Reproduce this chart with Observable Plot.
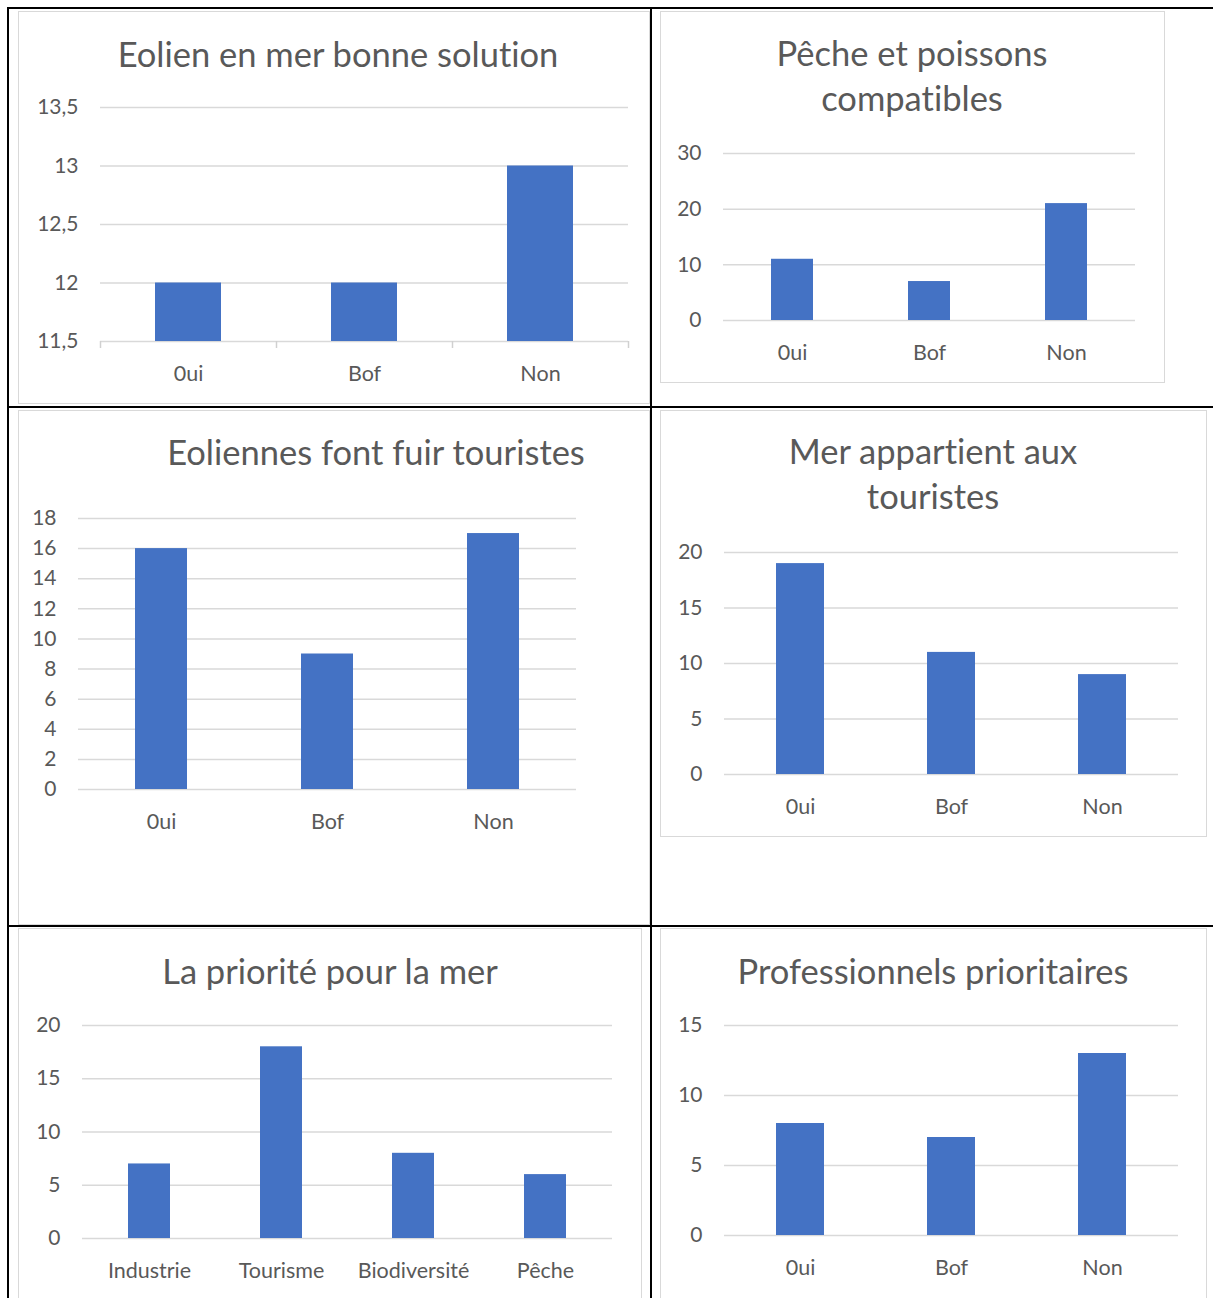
<!DOCTYPE html>
<html>
<head>
<meta charset="utf-8">
<script src="https://cdn.jsdelivr.net/npm/d3@7"></script>
<script src="https://cdn.jsdelivr.net/npm/@observablehq/plot@0.6"></script>
<style>
  html, body { margin: 0; padding: 0; background: #fff; }
  body { width: 1213px; height: 1298px; position: relative; overflow: hidden; font-family: Lato, "Open Sans", sans-serif;
         font-variant-ligatures: none; font-feature-settings: "liga" 0, "clig" 0, "calt" 0, "dlig" 0; }
  .line { position: absolute; background: #000; }
  .box { position: absolute; border: 1.5px solid #d9d9d9; box-sizing: border-box; }
  .title { position: absolute; transform: translate(-50%, -50%); white-space: nowrap; text-align: center;
           color: #595959; font-family: Lato, sans-serif; font-size: 34.5px; line-height: 45px;
           font-variant-ligatures: none; font-feature-settings: "liga" 0, "clig" 0, "calt" 0, "dlig" 0; }
  .chart { position: absolute; font-variant-ligatures: none; font-feature-settings: "liga" 0, "clig" 0, "calt" 0, "dlig" 0; }
</style>
</head>
<body>
<script>
// ---------- data ----------
const catsOuiBofNon = ["0ui", "Bof", "Non"];
const catsPriorite = ["Industrie", "Tourisme", "Biodiversité", "Pêche"];

const titleEolien = ["Eolien en mer bonne solution"];
const titlePeche = ["Pêche et poissons", "compatibles"];
const titleFuir = ["Eoliennes font fuir touristes"];
const titleMer = ["Mer appartient aux", "touristes"];
const titlePriorite = ["La priorité pour la mer"];
const titlePro = ["Professionnels prioritaires"];

const valsEolien = [12, 12, 13];
const valsPeche = [11, 7, 21];
const valsFuir = [16, 9, 17];
const valsMer = [19, 11, 9];
const valsPriorite = [7, 18, 8, 6];
const valsPro = [8, 7, 13];

const ticksEolien = [11.5, 12, 12.5, 13, 13.5];
const ticksPeche = [0, 10, 20, 30];
const ticksFuir = [0, 2, 4, 6, 8, 10, 12, 14, 16, 18];
const ticksMer = [0, 5, 10, 15, 20];
const ticksPriorite = [0, 5, 10, 15, 20];
const ticksPro = [0, 5, 10, 15];

// ---------- layout ----------
const charts = [
  {title: titleEolien, cats: catsOuiBofNon, vals: valsEolien, ticks: ticksEolien,
   box: [18, 11, 632, 393], frame: [100, 107, 628, 341], frac: 0.375, tc: [338, 53], axisTicks: true},
  {title: titlePeche, cats: catsOuiBofNon, vals: valsPeche, ticks: ticksPeche,
   box: [660, 11, 505, 372], frame: [723, 153, 1135, 320], frac: 0.306, tc: [912, 75]},
  {title: titleFuir, cats: catsOuiBofNon, vals: valsFuir, ticks: ticksFuir,
   box: [18, 410, 632, 515], frame: [78, 518, 576, 789], frac: 0.313, tc: [376, 451]},
  {title: titleMer, cats: catsOuiBofNon, vals: valsMer, ticks: ticksMer,
   box: [660, 410, 547, 427], frame: [724, 552, 1178, 774], frac: 0.317, tc: [933, 473]},
  {title: titlePriorite, cats: catsPriorite, vals: valsPriorite, ticks: ticksPriorite,
   box: [18, 928, 624, 380], frame: [82, 1025, 612, 1238], frac: 0.317, tc: [330, 970]},
  {title: titlePro, cats: catsOuiBofNon, vals: valsPro, ticks: ticksPro,
   box: [660, 928, 547, 380], frame: [724, 1025, 1178, 1235], frac: 0.317, tc: [933, 970]}
];

// table lines
const lines = [
  [8, 7, 1205, 2], [7, 7, 2, 1291], [650, 7, 2, 1291], [8, 406, 1205, 2], [8, 925, 1205, 2]
];
for (const [x, y, w, h] of lines) {
  const d = document.createElement("div");
  d.className = "line";
  Object.assign(d.style, {left: x + "px", top: y + "px", width: w + "px", height: h + "px"});
  document.body.appendChild(d);
}

const fmt = d => String(d).replace(".", ",");

for (const c of charts) {
  const [bx, by, bw, bh] = c.box;
  const [fx1, fy1, fx2, fy2] = c.frame;

  const box = document.createElement("div");
  box.className = "box";
  Object.assign(box.style, {left: bx + "px", top: by + "px", width: bw + "px", height: bh + "px"});
  document.body.appendChild(box);

  const data = c.cats.map((cat, i) => ({cat, val: c.vals[i]}));
  const pi = 1 - c.frac;
  const yMin = c.ticks[0], yMax = c.ticks[c.ticks.length - 1];
  const step = (fx2 - fx1) / c.cats.length;

  const marks = [
    Plot.gridY(c.ticks, {stroke: "#d9d9d9", strokeOpacity: 1, strokeWidth: 1.5}),
    Plot.barY(data, {x: "cat", y: "val", fill: "#4472C4", clip: true}),
    Plot.axisY({ticks: c.ticks, tickSize: 0, tickPadding: 22, tickFormat: fmt, fontSize: 21, label: null}),
    Plot.axisX({tickSize: 0, tickPadding: 24, fontSize: 21.5, label: null})
  ];
  if (c.axisTicks) {
    marks.push(Plot.ruleX(c.cats, {x: d => d, y1: yMin, y2: yMin, dx: -step / 2, insetBottom: -7, stroke: "#d0d0d0", strokeWidth: 1.5}));
    marks.push(Plot.ruleX(c.cats.slice(-1), {x: d => d, y1: yMin, y2: yMin, dx: step / 2, insetBottom: -7, stroke: "#d0d0d0", strokeWidth: 1.5}));
  }

  const svg = Plot.plot({
    width: bw,
    height: bh,
    marginLeft: fx1 - bx,
    marginRight: bx + bw - fx2,
    marginTop: fy1 - by,
    marginBottom: by + bh - fy2,
    x: {domain: c.cats, paddingInner: pi, paddingOuter: pi / 2, axis: null},
    y: {domain: [yMin, yMax], axis: null},
    style: {fontFamily: "Lato, sans-serif", fontSize: "21px", color: "#595959", background: "transparent", overflow: "visible"},
    marks
  });
  svg.classList.add("chart");
  Object.assign(svg.style, {left: bx + "px", top: by + "px", position: "absolute"});
  document.body.appendChild(svg);

  const t = document.createElement("div");
  t.className = "title";
  t.innerHTML = c.title.join("<br>");
  Object.assign(t.style, {left: c.tc[0] + "px", top: c.tc[1] + "px"});
  document.body.appendChild(t);
}
</script>
</body>
</html>
